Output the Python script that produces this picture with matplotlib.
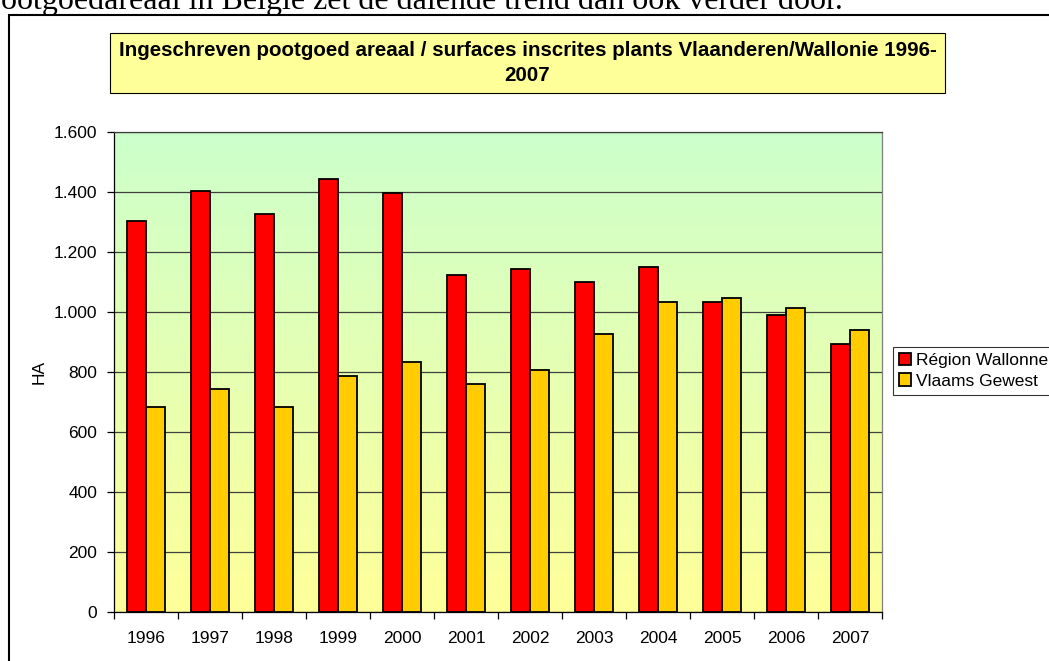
import matplotlib
matplotlib.use("Agg")
import matplotlib.pyplot as plt
import numpy as np
from matplotlib.patches import Rectangle
from matplotlib.ticker import FuncFormatter, FixedLocator

years = ["1996", "1997", "1998", "1999", "2000", "2001",
         "2002", "2003", "2004", "2005", "2006", "2007"]
wallonie = [1303, 1403, 1328, 1443, 1396, 1124, 1142, 1100, 1150, 1032, 989, 894]
vlaanderen = [682, 744, 684, 788, 834, 761, 807, 928, 1032, 1046, 1014, 940]
series_names = ["Région Wallonne", "Vlaams Gewest"]
title = "Ingeschreven pootgoed areaal / surfaces inscrites plants Vlaanderen/Wallonie 1996-\n2007"
top_line = "pootgoedareaal in België zet de dalende trend dan ook verder door."

W, H = 1049, 661
plt.rcParams["font.family"] = ["Liberation Sans", "DejaVu Sans"]

fig = plt.figure(figsize=(W / 100, H / 100), dpi=100)
fig.patch.set_facecolor("white")

def fx(px):
    return px / W

def fy(py):
    return 1 - py / H

# text of the surrounding document, cut off at the top (as in the source)
fig.text(fx(843), fy(9.5), top_line, ha="right", va="baseline",
         fontsize=23, family="Liberation Serif", color="black")

# outer chart frame
fig.patches.append(Rectangle((fx(8.5), -0.2), 1.2, fy(14.5) + 0.2,
                             transform=fig.transFigure, fill=False,
                             edgecolor="black", linewidth=1.5))

# title box
fig.patches.append(Rectangle((fx(110), fy(93)), fx(945) - fx(110), fy(33) - fy(93),
                             transform=fig.transFigure, facecolor="#FFFF99",
                             edgecolor="black", linewidth=0.8))
fig.text(fx(527.5), fy(63), title, ha="center", va="center", fontsize=14.8,
         fontweight="bold", linespacing=1.35)

ax = fig.add_axes([fx(114), fy(612), fx(882) - fx(114), fy(132) - fy(612)])

# gradient background green -> yellow
top = np.array(matplotlib.colors.to_rgb("#CCFFCC"))
bot = np.array(matplotlib.colors.to_rgb("#FFFF99"))
t = np.linspace(0, 1, 256)[:, None]
grad = (top * (1 - t) + bot * t)[:, None, :]
ax.imshow(grad, extent=[0, 1, 0, 1], transform=ax.transAxes, aspect="auto", zorder=0)

x = np.arange(len(years))
bw = 0.29
ax.bar(x - bw / 2, wallonie, bw, color="#FF0000", edgecolor="black",
       linewidth=1.3, label=series_names[0], zorder=3)
ax.bar(x + bw / 2, vlaanderen, bw, color="#FFCC00", edgecolor="black",
       linewidth=1.3, label=series_names[1], zorder=3)

ax.set_xlim(-0.5, len(years) - 0.5)
ax.set_ylim(0, 1600)
ax.set_yticks(np.arange(0, 1601, 200))
ax.yaxis.set_major_formatter(FuncFormatter(lambda v, p: f"{int(v):,}".replace(",", ".")))
ax.grid(axis="y", color="#404040", linewidth=0.9, zorder=1)

ax.set_xticks(x)
ax.set_xticklabels(years)
ax.xaxis.set_minor_locator(FixedLocator(np.arange(-0.5, len(years), 1)))
ax.tick_params(axis="x", which="major", length=0, pad=14, labelsize=12.5)
ax.tick_params(axis="x", which="minor", length=5, width=0.9, direction="out")
ax.tick_params(axis="y", length=5, width=0.9, pad=7, labelsize=12.5)

for s in ["left", "bottom"]:
    ax.spines[s].set_color("black")
    ax.spines[s].set_linewidth(0.9)
ax.spines["right"].set_color("#808080")
ax.spines["top"].set_color("#404040")
ax.spines["right"].set_linewidth(0.9)
ax.spines["top"].set_linewidth(0.9)

fig.text(fx(39), fy(372), "HA", rotation=90, ha="center", va="center", fontsize=12.5)

leg = ax.legend(loc="upper left", bbox_to_anchor=(fx(893), fy(347)),
                bbox_transform=fig.transFigure, frameon=True, fancybox=False,
                fontsize=12.5, handlelength=0.7, handleheight=0.7,
                handletextpad=0.3, labelspacing=0.3, borderpad=0.35,
                borderaxespad=0)
leg.get_frame().set_edgecolor("black")
leg.get_frame().set_linewidth(0.8)

fig.savefig("out.png", dpi=100)
